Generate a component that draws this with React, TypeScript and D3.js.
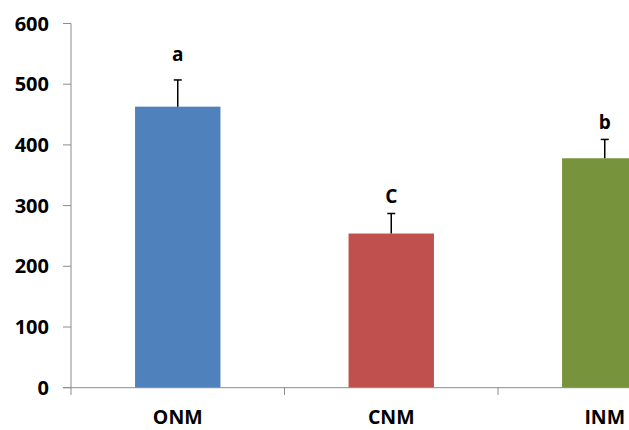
import React from "react";
import * as d3 from "d3";

const categories = ["ONM", "CNM", "INM"];
const values = [463, 254, 378];
const errors = [44, 33, 31];
const letters = ["a", "C", "b"];
const colors = ["#4F81BD", "#C0504D", "#77933C"];
const yTicks = [0, 100, 200, 300, 400, 500, 600];
const letterGap = [19, 10, 10];

export default function App() {
  const W = 629, H = 430;
  const x0 = 71, x1 = 711.5;
  const x = d3.scaleBand<string>().domain(categories).range([x0, x1]).paddingInner(0.6).paddingOuter(0.3);
  const band = (x1 - x0) / categories.length;
  const y = d3.scaleLinear().domain([0, 600]).range([387.7, 23.5]);
  const font = "'Open Sans', 'DejaVu Sans', sans-serif";
  const axisColor = "#8c8c8c";
  return (
    <svg width={W} height={H} style={{ position: "absolute", left: 0, top: 0, background: "#fff" }}>
      {categories.map((c, i) => {
        const bx = x(c)!;
        const bw = x.bandwidth();
        const cx = bx + bw / 2;
        return (
          <g key={c}>
            <rect x={bx} y={y(values[i])} width={bw} height={y(0) - y(values[i])} fill={colors[i]} />
            <line x1={cx} x2={cx} y1={y(values[i])} y2={y(values[i] + errors[i])} stroke="#000" strokeWidth={1.5} />
            <line x1={cx - 4} x2={cx + 4} y1={y(values[i] + errors[i])} y2={y(values[i] + errors[i])} stroke="#000" strokeWidth={1.5} />
            <text x={cx} y={y(values[i] + errors[i]) - letterGap[i]} textAnchor="middle" fontFamily={font} fontWeight="bold" fontSize={19} fill="#000">{letters[i]}</text>
            <text x={cx} y={424} textAnchor="middle" fontFamily={font} fontWeight="bold" fontSize={19.5} fill="#000">{c}</text>
          </g>
        );
      })}
      <line x1={x0} x2={x0} y1={y(600)} y2={395} stroke={axisColor} strokeWidth={1} />
      <line x1={63} x2={W} y1={y(0)} y2={y(0)} stroke={axisColor} strokeWidth={1} />
      {yTicks.map((t) => (
        <g key={t}>
          <line x1={63} x2={x0} y1={y(t)} y2={y(t)} stroke={axisColor} strokeWidth={1} />
          <text x={49} y={y(t) + 7} textAnchor="end" fontFamily={font} fontWeight="bold" fontSize={20} fill="#000">{t}</text>
        </g>
      ))}
      {[1, 2].map((k) => (
        <line key={k} x1={x0 + band * k} x2={x0 + band * k} y1={y(0)} y2={395} stroke={axisColor} strokeWidth={1} />
      ))}
    </svg>
  );
}
